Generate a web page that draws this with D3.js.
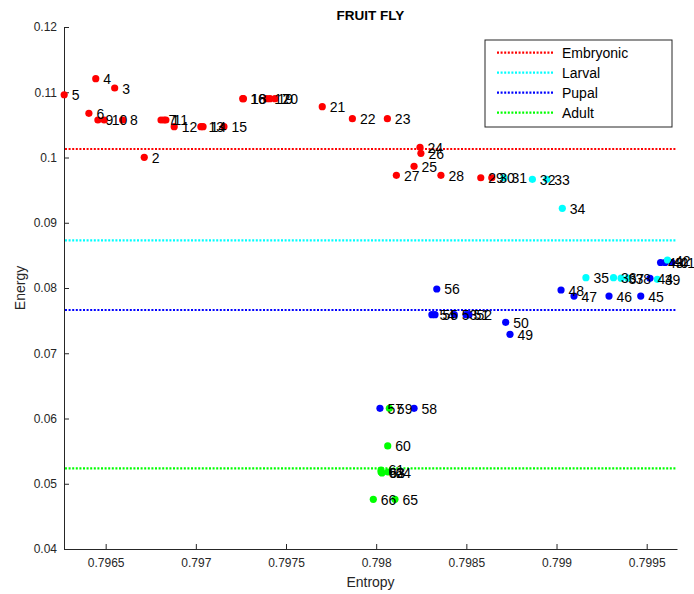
<!DOCTYPE html>
<html>
<head>
<meta charset="utf-8">
<script src="https://cdn.jsdelivr.net/npm/d3@7"></script>
<style>
  body { margin: 0; background: #fff; }
  svg { font-family: "Liberation Sans", Arial, Helvetica, sans-serif; }
</style>
</head>
<body>
<svg id="chart" width="694" height="594"></svg>
<script>

// point numbers, entropy (x), energy (y) and stage of each point
var ids = [1, 2, 3, 4, 5, 6, 7, 8, 9, 10,
	11, 12, 13, 14, 15, 16, 17, 18, 19, 20,
	21, 22, 23, 24, 25, 26, 27, 28, 29, 30,
	31, 32, 33, 34, 35, 36, 37, 38, 39, 40,
	41, 42, 43, 44, 45, 46, 47, 48, 49, 50,
	51, 52, 53, 54, 55, 56, 57, 58, 59, 60,
	61, 62, 63, 64, 65, 66];

var entropy = [0.796823, 0.796714, 0.796550, 0.796445, 0.796270, 0.796407, 0.796807, 0.796594, 0.796457, 0.796492,
	0.796834, 0.796880, 0.797028, 0.797040, 0.797156, 0.797260, 0.797393, 0.797264, 0.797411, 0.797439,
	0.797701, 0.797868, 0.798062, 0.798243, 0.798210, 0.798248, 0.798112, 0.798359, 0.798580, 0.798641,
	0.798709, 0.798866, 0.798946, 0.799032, 0.799163, 0.799316, 0.799358, 0.799396, 0.799559, 0.799602,
	0.799640, 0.799615, 0.799577, 0.799518, 0.799467, 0.799291, 0.799097, 0.799025, 0.798742, 0.798718,
	0.798498, 0.798515, 0.798433, 0.798309, 0.798326, 0.798336, 0.798021, 0.798210, 0.798073, 0.798064,
	0.798027, 0.798027, 0.798032, 0.798065, 0.798104, 0.797984];

var energy = [0.10575, 0.10003, 0.11065, 0.11208, 0.10962, 0.10677, 0.10575, 0.10575, 0.10575, 0.10575,
	0.10575, 0.10472, 0.10472, 0.10472, 0.10472, 0.10901, 0.10901, 0.10901, 0.10901, 0.10901,
	0.10779, 0.10595, 0.10595, 0.10156, 0.09865, 0.10064, 0.09727, 0.09727, 0.09690, 0.09690,
	0.09690, 0.09666, 0.09666, 0.09221, 0.08158, 0.08158, 0.08150, 0.08150, 0.08133, 0.08391,
	0.08391, 0.08429, 0.08391, 0.08149, 0.07877, 0.07877, 0.07877, 0.07969, 0.07290, 0.07474,
	0.07591, 0.07591, 0.07591, 0.07591, 0.07591, 0.07985, 0.06156, 0.06156, 0.06156, 0.05579,
	0.05211, 0.05180, 0.05165, 0.05180, 0.04762, 0.04762];

// 0 Embryonic, 1 Larval, 2 Pupal, 3 Adult
var stage = [0, 0, 0, 0, 0, 0, 0, 0, 0, 0,
	0, 0, 0, 0, 0, 0, 0, 0, 0, 0,
	0, 0, 0, 0, 0, 0, 0, 0, 0, 0,
	1, 1, 1, 1, 1, 1, 1, 1, 1, 2,
	2, 1, 2, 2, 2, 2, 2, 2, 2, 2,
	2, 2, 2, 2, 2, 2, 2, 2, 3, 3,
	3, 3, 3, 3, 3, 3];

// stage reference lines
var stageNames = ['Embryonic', 'Larval', 'Pupal', 'Adult'];
var stageEnergy = [0.1013, 0.08731, 0.07663, 0.05237];
var stageColors = ['#ff0000', '#00ffff', '#0000ff', '#00ff00'];

var xTicks = [0.7965, 0.797, 0.7975, 0.798, 0.7985, 0.799, 0.7995];
var yTicks = [0.04, 0.05, 0.06, 0.07, 0.08, 0.09, 0.1, 0.11, 0.12];

var svg = d3.select('#chart');
var plotLeft = 64, plotRight = 677, plotTop = 27, plotBottom = 549;
var axisColor = '#262626';

var x = d3.scaleLinear().domain([0.796269, 0.799668]).range([plotLeft, plotRight]);
var y = d3.scaleLinear().domain([0.04, 0.12]).range([plotBottom, plotTop]);

// axes, ticks pointing inward
var gx = svg.append('g').attr('transform', 'translate(0,' + plotBottom + ')')
	.call(d3.axisBottom(x).tickValues(xTicks).tickSizeInner(-5).tickSizeOuter(0).tickPadding(9)
		.tickFormat(function(d) { return String(+d.toFixed(4)); }));

var gy = svg.append('g').attr('transform', 'translate(' + plotLeft + ',0)')
	.call(d3.axisLeft(y).tickValues(yTicks).tickSizeInner(-5).tickSizeOuter(0).tickPadding(7)
		.tickFormat(function(d) { return String(+d.toFixed(2)); }));

[gx, gy].forEach(function(g) {
	g.select('.domain').attr('stroke', axisColor).attr('stroke-width', 1);
	g.selectAll('.tick line').attr('stroke', axisColor);
	g.selectAll('.tick text').attr('fill', axisColor).style('font-size', '12px')
		.style('font-family', '"Liberation Sans", Arial, sans-serif');
});

// stage lines
svg.append('g').selectAll('line').data(stageEnergy).enter().append('line')
	.attr('x1', plotLeft + 1).attr('x2', plotRight)
	.attr('y1', function(d) { return y(d); }).attr('y2', function(d) { return y(d); })
	.attr('stroke', function(d, i) { return stageColors[i]; })
	.attr('stroke-width', 2.2)
	.attr('stroke-dasharray', '2,1.6');

// points
var pts = ids.map(function(id, i) { return { id: id, x: entropy[i], y: energy[i], s: stage[i] }; });

svg.append('g').selectAll('circle').data(pts).enter().append('circle')
	.attr('cx', function(d) { return x(d.x); })
	.attr('cy', function(d) { return y(d.y); })
	.attr('r', 3.6)
	.attr('fill', function(d) { return stageColors[d.s]; });

svg.append('g').selectAll('text').data(pts).enter().append('text')
	.attr('x', function(d) { return x(d.x) + 7.5; })
	.attr('y', function(d) { return y(d.y) + 5.5; })
	.style('font-size', '14px')
	.attr('fill', '#000')
	.text(function(d) { return d.id; });

// title and axis labels
svg.append('text').attr('x', (plotLeft + plotRight) / 2).attr('y', 20)
	.attr('text-anchor', 'middle').style('font-size', '13.5px').style('font-weight', 'bold')
	.attr('fill', '#000').text('FRUIT FLY');

svg.append('text').attr('x', (plotLeft + plotRight) / 2).attr('y', 587)
	.attr('text-anchor', 'middle').style('font-size', '14px')
	.attr('fill', axisColor).text('Entropy');

svg.append('text').attr('transform', 'translate(25,' + ((plotTop + plotBottom) / 2) + ') rotate(-90)')
	.attr('text-anchor', 'middle').style('font-size', '14px')
	.attr('fill', axisColor).text('Energy');

// legend
var lg = svg.append('g').attr('transform', 'translate(485,40)');
lg.append('rect').attr('width', 187).attr('height', 87)
	.attr('fill', '#fff').attr('stroke', '#262626').attr('stroke-width', 1);

var rows = lg.selectAll('g.row').data(stageNames).enter().append('g')
	.attr('transform', function(d, i) { return 'translate(0,' + (12.7 + i * 20) + ')'; });

rows.append('line').attr('x1', 12).attr('x2', 69).attr('y1', 0).attr('y2', 0)
	.attr('stroke', function(d, i) { return stageColors[i]; })
	.attr('stroke-width', 2.2).attr('stroke-dasharray', '2,1.6');

rows.append('text').attr('x', 77).attr('y', 5).style('font-size', '14px')
	.attr('fill', '#000').text(function(d) { return d; });

</script>
</body>
</html>
